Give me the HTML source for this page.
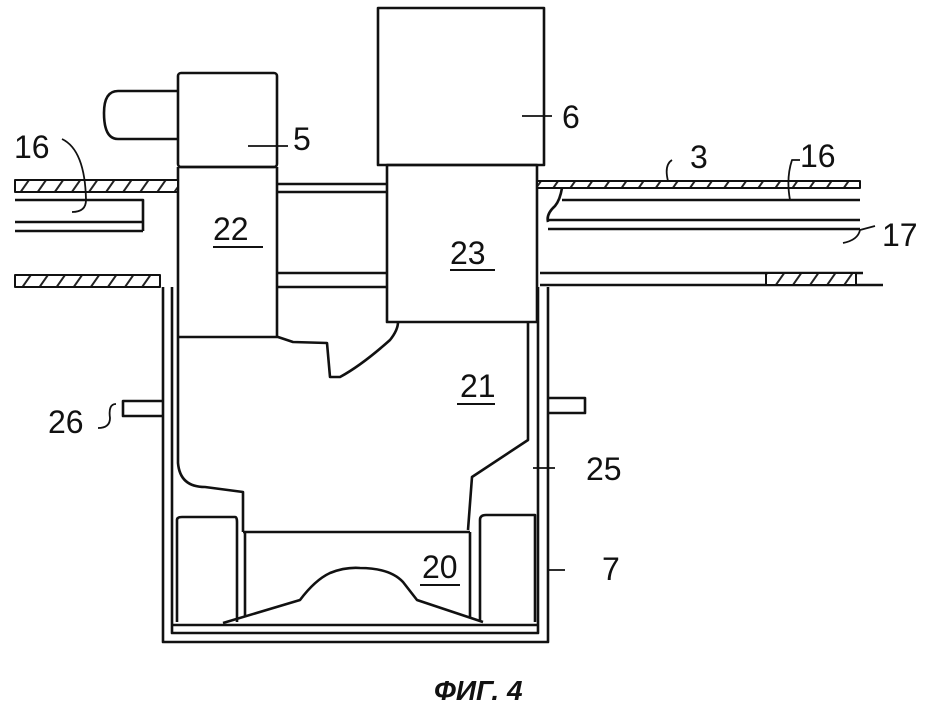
<!DOCTYPE html>
<html><head><meta charset="utf-8"><style>
html,body{margin:0;padding:0;background:#fff;}
svg{display:block;}
text{font-family:"Liberation Sans",sans-serif;fill:#111;}
</style></head><body>
<svg width="934" height="714" viewBox="0 0 934 714" xmlns="http://www.w3.org/2000/svg">
<defs>
<pattern id="h" width="14" height="14" patternUnits="userSpaceOnUse" patternTransform="rotate(35)">
<rect width="14" height="14" fill="#fff"/><line x1="0" y1="0" x2="0" y2="14" stroke="#222" stroke-width="4"/></pattern>
</defs>
<g fill="none" stroke="#111" stroke-width="2.6" stroke-linejoin="round">
<!-- motor and box 5 -->
<path d="M178,91 H118 Q104,91 104,113 Q104,139 118,139 H178"/>
<rect x="178" y="73" width="99" height="94" rx="3"/>
<!-- box 6 -->
<rect x="378" y="8" width="166" height="157"/>
<!-- 22 -->
<path d="M178,167 V337 M277,167 V337 M178,167 H277"/>
<!-- 23 -->
<path d="M387,165 H537 V322 H387 Z"/>
<!-- top left layer -->
<rect x="15" y="180" width="163" height="12" fill="url(#h)" stroke-width="2"/>
<path d="M15,200 H143 V231 M15,222 H143 M15,231 H143"/>
<!-- between -->
<path d="M277,184 H387 M277,192 H387 M277,273 H387 M277,287 H387"/>
<!-- top right layer -->
<rect x="537" y="181" width="323" height="7" fill="url(#h)" stroke-width="2"/>
<path d="M562,200 H860 M562,188 Q560,200 555,206 Q546,214 548,222 M548,220 H860 M548,229 H860"/>
<!-- lower layers -->
<rect x="15" y="275" width="145" height="12" fill="url(#h)" stroke-width="2"/>
<path d="M540,273 H863 M540,285 H883"/>
<rect x="766" y="273" width="90" height="12" fill="url(#h)" stroke-width="2"/>
<!-- housing -->
<path d="M163,287 V642 H548 V287"/>
<path d="M172,287 V633 H538 V287"/>
<!-- flanges -->
<path d="M163,401 H123 V416 H163"/>
<path d="M548,398 H585 V413 H548"/>
<!-- chamber 21 -->
<path d="M178,337 H278 L293,342 L327,343 L330,377 L340,377 Q362,365 390,340 Q398,330 398,322"/>
<path d="M178,337 V463 Q180,487 205,487 L243,492 V532"/>
<path d="M528,322 V440 L472,477 L468,530"/>
<!-- 20 -->
<path d="M243,532 H470"/>
<path d="M177,622 V520 Q177,517 182,517 H235 Q237,517 237,522 V622"/>
<path d="M245,532 V617 M470,532 V617"/>
<path d="M480,622 V520 Q480,515 486,515 H535 V622"/>
<path d="M172,625 H538"/>
<path d="M223,623 L300,600 Q315,580 330,573 Q345,567 360,568 Q390,568 403,582 L417,600 L483,622"/>
<!-- leaders -->
<path d="M62,139 Q85,150 86,200 Q86,212 72,212" stroke-width="1.8"/>
<path d="M248,146 H288 M522,116 H552 M668,181 Q664,165 672,160 M790,200 Q786,178 792,160 H800 M843,243 Q858,240 860,230 L875,226 M116,404 Q108,404 110,418 Q110,428 98,428 M533,468 H555 M548,570 H565" stroke-width="1.8"/>
</g>
<g font-size="32">
<text x="14" y="158">16</text>
<text x="293" y="150">5</text>
<text x="562" y="128">6</text>
<text x="690" y="168">3</text>
<text x="800" y="167">16</text>
<text x="882" y="246">17</text>
<text x="213" y="240">22</text>
<text x="450" y="264">23</text>
<text x="460" y="397">21</text>
<text x="48" y="433">26</text>
<text x="586" y="480">25</text>
<text x="422" y="578">20</text>
<text x="602" y="580">7</text>
</g>
<g stroke="#111" stroke-width="2">
<line x1="213" y1="247" x2="263" y2="247"/>
<line x1="450" y1="270" x2="495" y2="270"/>
<line x1="457" y1="404" x2="495" y2="404"/>
<line x1="420" y1="585" x2="460" y2="585"/>
</g>
<text x="434" y="700" font-size="28" font-weight="bold" font-style="italic">ФИГ. 4</text>
</svg>
</body></html>
